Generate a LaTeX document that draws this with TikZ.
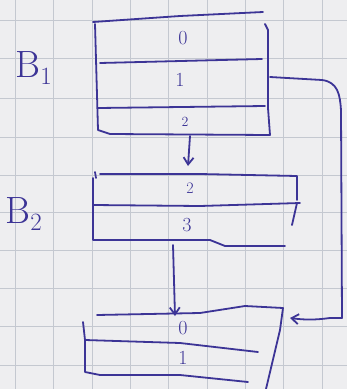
\documentclass[tikz,border=0pt]{standalone}
\usetikzlibrary{arrows.meta}
\definecolor{ink}{RGB}{60,52,150}
\definecolor{paper}{RGB}{238,238,240}
\definecolor{gridc}{RGB}{196,200,208}
\begin{document}
\begin{tikzpicture}[x=1pt,y=-1pt,
  pen/.style={draw=ink,line width=1.8pt,line cap=round,line join=round},
  lbl/.style={text=ink,font=\fontsize{20}{20}\selectfont,inner sep=1pt},
  big/.style={text=ink,font=\fontsize{38}{38}\selectfont,inner sep=1pt},
  arr/.style={pen,-{Straight Barb[length=7pt,width=10pt]}}]
\fill[paper] (0,0) rectangle (347,389);
\useasboundingbox (0,0) rectangle (347,389);
% grid
\foreach \gx in {15,53,92,130,168,207,245,283,322}
  \draw[gridc,line width=0.9pt] (\gx,0) -- (\gx,389);
\foreach \gy in {20,58,98,137,175,212,250,288,326,365}
  \draw[gridc,line width=0.9pt] (0,\gy) -- (347,\gy);
% block B1
\draw[pen] (93,22) -- (180,16) -- (263,12);
\draw[pen] (95,24) -- (98,130) -- (110,134) -- (270,135) -- (268,108) -- (268,30) -- (265,24);
\draw[pen] (100,63) -- (262,59);
\draw[pen] (98,108) -- (265,106);
\node[lbl] (b1r0) at (183,38) {0};
\node[lbl] (b1r1) at (180,80) {1};
\node[lbl,font=\fontsize{14}{14}\selectfont] (b1r2) at (185,122) {2};
\node[big] (B1) at (34,68) {B$_{\scriptstyle 1}$};
% block B2
\draw[pen] (95,172) -- (96,178);
\draw[pen] (100,174) -- (200,174) -- (297,176) -- (297,200);
\draw[pen] (93,178) -- (93,240) -- (210,240) -- (225,246) -- (285,246);
\draw[pen] (93,205) -- (200,206) -- (300,203);
\draw[pen] (297,203) -- (292,225);
\node[lbl,font=\fontsize{16}{16}\selectfont] (b2r2) at (190,188) {2};
\node[lbl] (b2r3) at (187,225) {3};
\node[big] (B2) at (24,214) {B$_{\scriptstyle 2}$};
% bottom block
\draw[pen] (97,315) -- (200,313) -- (245,306) -- (283,308) -- (280,330) -- (266,389);
\draw[pen] (83,322) -- (85,340) -- (85,372) -- (100,375) -- (180,375) -- (248,382);
\draw[pen] (85,340) -- (180,343) -- (258,352);
\node[lbl] (b3r0) at (183,328) {0};
\node[lbl] (b3r1) at (183,358) {1};
% connector points
\coordinate (c1s) at (190,136);
\coordinate (c1e) at (188,166);
\coordinate (c2s) at (173,245);
\coordinate (c2e) at (175,316);
\coordinate (c3s) at (270,77);
\coordinate (c3e) at (290,318);
\draw[arr] (c1s) -- (c1e);
\draw[arr] (c2s) -- (c2e);
\draw[arr] (c3s) -- (322,80) .. controls (338,82) and (340,95) .. (341,110)
  -- (342,318) -- (330,318) .. controls (315,320) and (305,320) .. (c3e);
\end{tikzpicture}
\end{document}
